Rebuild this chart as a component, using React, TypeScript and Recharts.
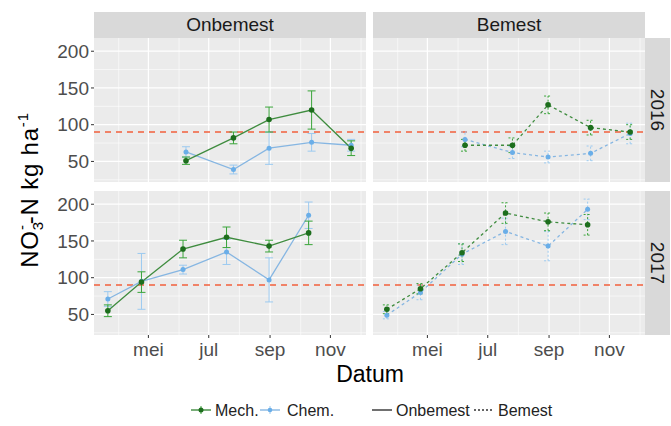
import React from 'react';
import {
  ComposedChart,
  Line,
  XAxis,
  YAxis,
  CartesianGrid,
  ReferenceLine,
  ErrorBar
} from 'recharts';

// sampling dates, as day of year
const days2016 = [159, 207, 243, 286, 326];
const days2017 = [80, 114, 156, 200, 243, 283];

// 2016, Onbemest
const mechOnb2016 = [51, 82, 107, 120, 68];
const mechOnb2016Err = [5, 8, 17, 26, 10];
const chemOnb2016 = [63, 39, 68, 76, 72];
const chemOnb2016Err = [7, 6, 22, 12, 8];

// 2016, Bemest
const mechBem2016 = [72, 72, 127, 96, 90];
const mechBem2016Err = [8, 10, 12, 10, 10];
const chemBem2016 = [80, 62, 56, 61, 88];
const chemBem2016Err = [10, 8, 8, 10, 14];

// 2017, Onbemest
const mechOnb2017 = [55, 94, 139, 155, 143, 161];
const mechOnb2017Err = [8, 14, 12, 14, 8, 16];
const chemOnb2017 = [71, 95, 111, 135, 97, 185];
const chemOnb2017Err = [10, 38, 6, 17, 30, 18];

// 2017, Bemest
const mechBem2017 = [57, 85, 134, 188, 176, 172];
const mechBem2017Err = [6, 7, 12, 14, 12, 14];
const chemBem2017 = [49, 80, 132, 163, 143, 193];
const chemBem2017Err = [5, 10, 14, 18, 20, 14];

const monthTicks = [121, 182, 244, 305];
const monthLabels = ['mei', 'jul', 'sep', 'nov'];
const monthMinor = [91, 152, 213, 275, 336];
const yTicks = [50, 100, 150, 200];
const yMinor = [25, 75, 125, 175];
const threshold = 90;

const X_DOMAIN: [number, number] = [66, 341];
const Y_DOMAIN: [number, number] = [22, 218];

const FONT = '"Liberation Sans", Arial, Helvetica, sans-serif';
const PANEL_W = 272;
const PANEL_H = 144;
const Y_AXIS_W = 44;
const X_AXIS_H = 40;

const MECH_LINE = '#3f8c3f';
const MECH_DOT = '#1d6e1d';
const MECH_ERR = '#3aa53a';
const CHEM_LINE = '#86b6e2';
const CHEM_DOT = '#6aaee8';
const CHEM_ERR = '#9ccaf0';

interface PanelProps {
  days: number[];
  mech: number[];
  mechErr: number[];
  chem: number[];
  chemErr: number[];
  bemest?: boolean;
  showX?: boolean;
  showY?: boolean;
}

function Panel({ days, mech, mechErr, chem, chemErr, bemest, showX, showY }: PanelProps) {
  const data = days.map((d, i) => ({
    day: d,
    mech: mech[i],
    mechErr: mechErr[i],
    chem: chem[i],
    chemErr: chemErr[i]
  }));
  const dash = bemest ? '3 3' : undefined;
  const errDash = bemest ? '2 2' : undefined;

  return (
    <ComposedChart
      width={PANEL_W + (showY ? Y_AXIS_W : 0)}
      height={PANEL_H + (showX ? X_AXIS_H : 0)}
      data={data}
      margin={{ top: 0, right: 0, bottom: 0, left: 0 }}
    >
      <CartesianGrid fill="#EBEBEB" stroke="#ffffff" strokeWidth={0.6} horizontalValues={yMinor} verticalValues={monthMinor} />
      <CartesianGrid stroke="#ffffff" strokeWidth={1.2} horizontalValues={yTicks} verticalValues={monthTicks} />
      <XAxis
        type="number"
        dataKey="day"
        domain={X_DOMAIN}
        ticks={monthTicks}
        interval={0}
        allowDataOverflow
        tickFormatter={(v) => monthLabels[monthTicks.indexOf(v)]}
        hide={!showX}
        height={X_AXIS_H}
        axisLine={false}
        tickSize={3}
        tickMargin={5}
        tickLine={{ stroke: '#333333' }}
        tick={{ fill: '#4D4D4D', fontSize: 19, fontFamily: FONT }}
      />
      <YAxis
        type="number"
        domain={Y_DOMAIN}
        ticks={yTicks}
        interval={0}
        allowDataOverflow
        hide={!showY}
        width={Y_AXIS_W}
        axisLine={false}
        tickSize={3}
        tickMargin={2}
        tickLine={{ stroke: '#333333' }}
        tick={{ fill: '#4D4D4D', fontSize: 19, fontFamily: FONT }}
      />
      <ReferenceLine y={threshold} stroke="#F2603C" strokeDasharray="6 5" strokeWidth={1.5} />
      <Line
        dataKey="chem"
        stroke={CHEM_LINE}
        strokeWidth={1.3}
        strokeDasharray={dash}
        dot={{ r: 2.5, fill: CHEM_DOT, stroke: 'none', strokeDasharray: '0' }}
        isAnimationActive={false}
      >
        <ErrorBar dataKey="chemErr" width={4} stroke={CHEM_ERR} strokeWidth={1} strokeDasharray={errDash} isAnimationActive={false} />
      </Line>
      <Line
        dataKey="mech"
        stroke={MECH_LINE}
        strokeWidth={1.3}
        strokeDasharray={dash}
        dot={{ r: 2.8, fill: MECH_DOT, stroke: 'none', strokeDasharray: '0' }}
        isAnimationActive={false}
      >
        <ErrorBar dataKey="mechErr" width={4} stroke={MECH_ERR} strokeWidth={1} strokeDasharray={errDash} isAnimationActive={false} />
      </Line>
    </ComposedChart>
  );
}

const stripStyle: React.CSSProperties = {
  position: 'absolute',
  background: '#D9D9D9',
  color: '#1A1A1A',
  fontSize: 19,
  fontFamily: FONT,
  display: 'flex',
  alignItems: 'center',
  justifyContent: 'center'
};

function LegendKey({ x, color, dotted }: { x: number; color: string; dotted?: boolean }) {
  return (
    <line x1={x} x2={x + 20} y1={410} y2={410} stroke={color} strokeWidth={1.4} strokeDasharray={dotted ? '2 2' : undefined} />
  );
}

export default function App() {
  const left0 = 94;
  const right0 = 373;
  const top0 = 38;
  const top1 = 191;

  return (
    <div style={{ position: 'absolute', left: 0, top: 0, width: 671, height: 426, background: '#fff', fontFamily: FONT, overflow: 'hidden' }}>
      <div style={{ position: 'absolute', left: left0 - Y_AXIS_W, top: top0 }}>
        <Panel days={days2016} mech={mechOnb2016} mechErr={mechOnb2016Err} chem={chemOnb2016} chemErr={chemOnb2016Err} showY />
      </div>
      <div style={{ position: 'absolute', left: right0, top: top0 }}>
        <Panel days={days2016} mech={mechBem2016} mechErr={mechBem2016Err} chem={chemBem2016} chemErr={chemBem2016Err} bemest />
      </div>
      <div style={{ position: 'absolute', left: left0 - Y_AXIS_W, top: top1 }}>
        <Panel days={days2017} mech={mechOnb2017} mechErr={mechOnb2017Err} chem={chemOnb2017} chemErr={chemOnb2017Err} showX showY />
      </div>
      <div style={{ position: 'absolute', left: right0, top: top1 }}>
        <Panel days={days2017} mech={mechBem2017} mechErr={mechBem2017Err} chem={chemBem2017} chemErr={chemBem2017Err} bemest showX />
      </div>

      {/* facet strips */}
      <div style={{ ...stripStyle, left: left0, top: 12, width: PANEL_W, height: top0 - 12 }}>Onbemest</div>
      <div style={{ ...stripStyle, left: right0, top: 12, width: PANEL_W, height: top0 - 12 }}>Bemest</div>
      <div style={{ ...stripStyle, left: right0 + PANEL_W, top: top0, width: 25, height: PANEL_H }}>
        <span style={{ transform: 'rotate(90deg)', display: 'inline-block' }}>2016</span>
      </div>
      <div style={{ ...stripStyle, left: right0 + PANEL_W, top: top1, width: 25, height: PANEL_H }}>
        <span style={{ transform: 'rotate(90deg)', display: 'inline-block' }}>2017</span>
      </div>

      <svg width={671} height={426} style={{ position: 'absolute', left: 0, top: 0, pointerEvents: 'none' }}>
        <text transform="translate(38, 190) rotate(-90)" textAnchor="middle" fontSize={24} letterSpacing={0.8} fontFamily={FONT} fill="#000">
          NO<tspan dy={5} fontSize={15}>3</tspan>
          <tspan dx={-9} dy={-16} fontSize={15}>-</tspan>
          <tspan dy={11}>-N kg ha</tspan>
          <tspan dy={-10} fontSize={15}>-1</tspan>
        </text>
        <text x={370} y={382} textAnchor="middle" fontSize={23} fontFamily={FONT} fill="#000">Datum</text>

        <LegendKey x={191} color={MECH_LINE} />
        <line x1={201} x2={201} y1={406} y2={414} stroke={MECH_ERR} strokeWidth={1} />
        <circle cx={201} cy={410} r={2.5} fill={MECH_DOT} />
        <text x={215} y={416} fontSize={16} fontFamily={FONT} fill="#222">Mech.</text>

        <LegendKey x={260} color={CHEM_LINE} />
        <line x1={270} x2={270} y1={406} y2={414} stroke={CHEM_ERR} strokeWidth={1} />
        <circle cx={270} cy={410} r={2.3} fill={CHEM_DOT} />
        <text x={287} y={416} fontSize={16} fontFamily={FONT} fill="#222">Chem.</text>

        <LegendKey x={372} color="#333333" />
        <text x={396} y={416} fontSize={16} fontFamily={FONT} fill="#222">Onbemest</text>

        <LegendKey x={474} color="#333333" dotted />
        <text x={498} y={416} fontSize={16} fontFamily={FONT} fill="#222">Bemest</text>
      </svg>
    </div>
  );
}
